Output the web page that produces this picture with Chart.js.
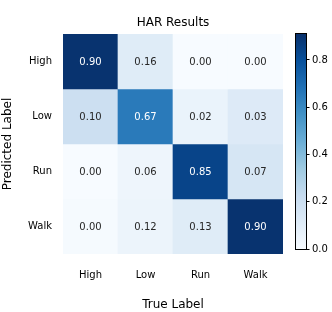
<!DOCTYPE html>
<html><head><meta charset="utf-8">
<script src="https://cdn.jsdelivr.net/npm/chart.js@4/dist/chart.umd.min.js"></script>
<style>
html,body{margin:0;padding:0;background:#fff;}
#wrap{position:relative;width:332px;height:312px;}
canvas{position:absolute;left:0;top:0;}
</style></head><body>
<div id="wrap"><canvas id="hm" width="332" height="312"></canvas><canvas id="cb" width="332" height="312"></canvas></div>
<script>
// ---- data ----
const chartTitle = 'HAR Results';
const trueLabels = ['High', 'Low', 'Run', 'Walk'];      // columns (x)
const predLabels = ['High', 'Low', 'Run', 'Walk'];      // rows (y)
const rowHigh = [0.90, 0.16, 0.00, 0.00];
const rowLow  = [0.10, 0.67, 0.02, 0.03];
const rowRun  = [0.00, 0.06, 0.85, 0.07];
const rowWalk = [0.00, 0.12, 0.13, 0.90];
// colour level of each cell
const shadeHigh = [0.90, 0.11, 0.00, 0.00];
const shadeLow  = [0.20, 0.65, 0.06, 0.12];
const shadeRun  = [0.00, 0.04, 0.84, 0.15];
const shadeWalk = [0.01, 0.05, 0.11, 0.90];
const cbarTicks = [0.0, 0.2, 0.4, 0.6, 0.8];
const cbarMin = 0.0;
const cbarMax = 0.91;

const rows = [rowHigh, rowLow, rowRun, rowWalk];
const shades = [shadeHigh, shadeLow, shadeRun, shadeWalk];

// matplotlib "Blues"
const BLUES = [[247,251,255],[222,235,247],[198,219,239],[158,202,225],[107,174,214],[66,146,198],[33,113,181],[8,81,156],[8,48,107]];
function bluesRGB(t){
  t = Math.max(0, Math.min(1, t));
  const p = t * (BLUES.length - 1), i = Math.min(Math.floor(p), BLUES.length - 2), f = p - i;
  return BLUES[i].map((c, k) => Math.round(c + (BLUES[i+1][k] - c) * f));
}
function levelColor(v){ const c = bluesRGB((v - cbarMin) / (cbarMax - cbarMin)); return `rgb(${c[0]},${c[1]},${c[2]})`; }
function textColorFor(v){
  const c = bluesRGB((v - cbarMin) / (cbarMax - cbarMin)).map(x => { x /= 255; return x <= 0.03928 ? x / 12.92 : Math.pow((x + 0.055) / 1.055, 2.4); });
  const lum = 0.2126 * c[0] + 0.7152 * c[1] + 0.0722 * c[2];
  return lum < 0.408 ? '#ffffff' : '#262626';
}
const FONT = "'DejaVu Sans', sans-serif";
Chart.defaults.font.family = FONT;
Chart.defaults.color = '#000';

const cellText = {
  id: 'cellText',
  afterDatasetsDraw(chart){
    const c = chart.ctx;
    c.save();
    c.font = `10px ${FONT}`;
    c.textAlign = 'center';
    c.textBaseline = 'middle';
    chart.data.datasets.forEach((ds, di) => {
      chart.getDatasetMeta(di).data.forEach((el, j) => {
        c.fillStyle = textColorFor(ds.shades[j]);
        c.fillText(ds.values[j].toFixed(2), el.x, (el.y + el.base) / 2 + 0.5);
      });
    });
    c.restore();
  },
  afterDraw(chart){
    const c = chart.ctx, a = chart.chartArea;
    c.save();
    c.font = `12px ${FONT}`;
    c.fillStyle = '#000';
    c.textAlign = 'center';
    c.textBaseline = 'middle';
    c.fillText(chartTitle, (a.left + a.right) / 2, a.top - 11);
    c.restore();
  }
};

new Chart(document.getElementById('hm'), {
  type: 'bar',
  data: {
    labels: trueLabels,
    datasets: rows.map((r, i) => ({
      label: predLabels[i],
      data: r.map(() => 1),
      values: r,
      shades: shades[i],
      backgroundColor: shades[i].map(levelColor),
      borderWidth: 0,
      barPercentage: 1,
      categoryPercentage: 1
    }))
  },
  options: {
    responsive: false, animation: false, devicePixelRatio: 1,
    layout: { padding: { left: 0, right: 49, top: 34, bottom: 0 } },
    plugins: { legend: { display: false }, tooltip: { enabled: false }, title: { display: false } },
    scales: {
      x: {
        stacked: true,
        grid: { display: false, drawTicks: false },
        border: { display: false },
        ticks: { font: { size: 10 }, color: '#000', padding: 15 },
        title: { display: true, text: 'True Label', font: { size: 12 }, color: '#000', padding: { top: 0, bottom: 0 } },
        afterFit(s){ s.height = 58; }
      },
      y: {
        stacked: true, reverse: true, min: 0, max: 4,
        grid: { display: false, drawTicks: false },
        border: { display: false },
        afterBuildTicks(s){ s.ticks = predLabels.map((l, i) => ({ value: i + 0.5 })); },
        ticks: { font: { size: 10 }, color: '#000', padding: 11, callback: (v) => predLabels[Math.floor(v)] },
        title: { display: true, text: 'Predicted Label', font: { size: 12 }, color: '#000', padding: { top: 1, bottom: 0 } },
        afterFit(s){ s.width = 63; }
      }
    }
  },
  plugins: [cellText]
});

const cbOutline = {
  id: 'cbOutline',
  afterDraw(chart){
    const c = chart.ctx, a = chart.chartArea;
    c.save();
    c.strokeStyle = '#000';
    c.lineWidth = 1;
    c.strokeRect(Math.round(a.left) - 0.5, Math.round(a.top) - 0.5, Math.round(a.right - a.left) + 1, Math.round(a.bottom - a.top) + 1);
    c.restore();
  }
};

new Chart(document.getElementById('cb'), {
  type: 'bar',
  data: {
    labels: [''],
    datasets: [{
      data: [[cbarMin, cbarMax]],
      backgroundColor(ctx){
        const ch = ctx.chart, ys = ch.scales.y;
        if (!ch.chartArea || !ys) return levelColor(cbarMax / 2);
        const g = ch.ctx.createLinearGradient(0, ys.getPixelForValue(cbarMin), 0, ys.getPixelForValue(cbarMax));
        BLUES.forEach((c, i) => g.addColorStop(i / (BLUES.length - 1), `rgb(${c[0]},${c[1]},${c[2]})`));
        return g;
      },
      borderWidth: 0, barPercentage: 1, categoryPercentage: 1
    }]
  },
  options: {
    responsive: false, animation: false, devicePixelRatio: 1,
    layout: { padding: { left: 296, right: 0, top: 34, bottom: 63 } },
    plugins: { legend: { display: false }, tooltip: { enabled: false } },
    scales: {
      x: { display: false },
      y: {
        position: 'right', min: cbarMin, max: cbarMax,
        afterBuildTicks(s){ s.ticks = cbarTicks.map(v => ({ value: v })); },
        ticks: { font: { size: 10 }, color: '#000', padding: 2.5, callback: (v) => Number(v).toFixed(1) },
        grid: { drawOnChartArea: false, drawTicks: true, tickLength: 3.5, color: '#000', lineWidth: 1 },
        border: { display: false },
        afterFit(s){ s.width = 26; }
      }
    }
  },
  plugins: [cbOutline]
});
</script>
</body></html>
